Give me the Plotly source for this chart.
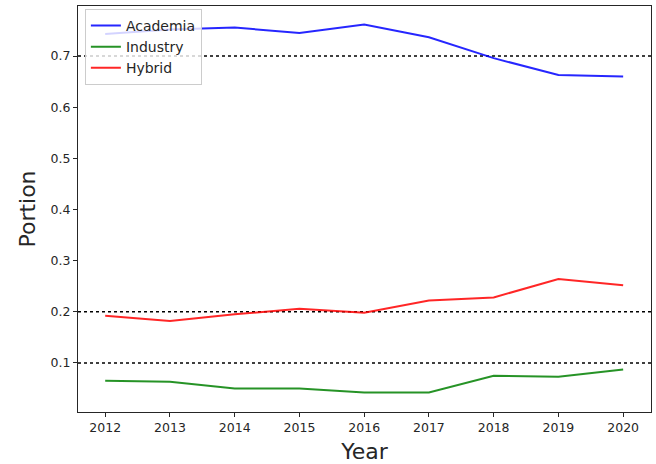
import plotly.graph_objects as go

years = [2012, 2013, 2014, 2015, 2016, 2017, 2018, 2019, 2020]
academia = [0.743, 0.752, 0.756, 0.745, 0.762, 0.737, 0.696, 0.663, 0.660]
industry = [0.065, 0.063, 0.050, 0.050, 0.042, 0.042, 0.075, 0.073, 0.087]
hybrid = [0.192, 0.182, 0.195, 0.206, 0.198, 0.222, 0.228, 0.264, 0.252]
ref_lines = [0.7, 0.2, 0.1]

series = [("Academia", academia, "rgba(0,0,255,0.85)"),
          ("Industry", industry, "rgba(0,128,0,0.85)"),
          ("Hybrid", hybrid, "rgba(255,0,0,0.85)")]

fig = go.Figure()
for name, vals, col in series:
    fig.add_trace(go.Scatter(x=years, y=vals, mode="lines", name=name,
                             line=dict(color=col, width=2)))

for v in ref_lines:
    fig.add_shape(type="line", xref="paper", x0=0, x1=1, yref="y", y0=v, y1=v,
                  line=dict(color="black", width=1.5, dash="dot"), layer="below")

fig.update_layout(
    width=656, height=464,
    margin=dict(l=78, r=5, t=6, b=52),
    paper_bgcolor="white", plot_bgcolor="white",
    font=dict(family="DejaVu Sans", color="#262626"),
    showlegend=True,
    legend=dict(x=0.012, y=0.993, xanchor="left", yanchor="top",
                bgcolor="rgba(255,255,255,0.8)", bordercolor="#cccccc", borderwidth=1,
                font=dict(size=14, family="DejaVu Sans"), tracegroupgap=0),
    xaxis=dict(range=[2011.58, 2020.43], tickvals=years, ticks="outside", ticklen=4,
               tickcolor="#262626",
               showgrid=False, zeroline=False, showline=True, linecolor="#262626",
               linewidth=1, mirror=True, tickfont=dict(size=12.5),
               title=dict(text="Year", font=dict(size=22), standoff=9)),
    yaxis=dict(range=[0.004, 0.798], tickvals=[0.1, 0.2, 0.3, 0.4, 0.5, 0.6, 0.7],
               ticktext=["0.1", "0.2", "0.3", "0.4", "0.5", "0.6", "0.7"],
               ticks="outside", ticklen=4, tickcolor="#262626",
               showgrid=False, zeroline=False, showline=True, linecolor="#262626",
               linewidth=1, mirror=True, tickfont=dict(size=12.5),
               title=dict(text="Portion", font=dict(size=22), standoff=8)),
)

fig.write_html("out.html", config={"displayModeBar": False},
               post_script="document.body.style.margin='0';")
